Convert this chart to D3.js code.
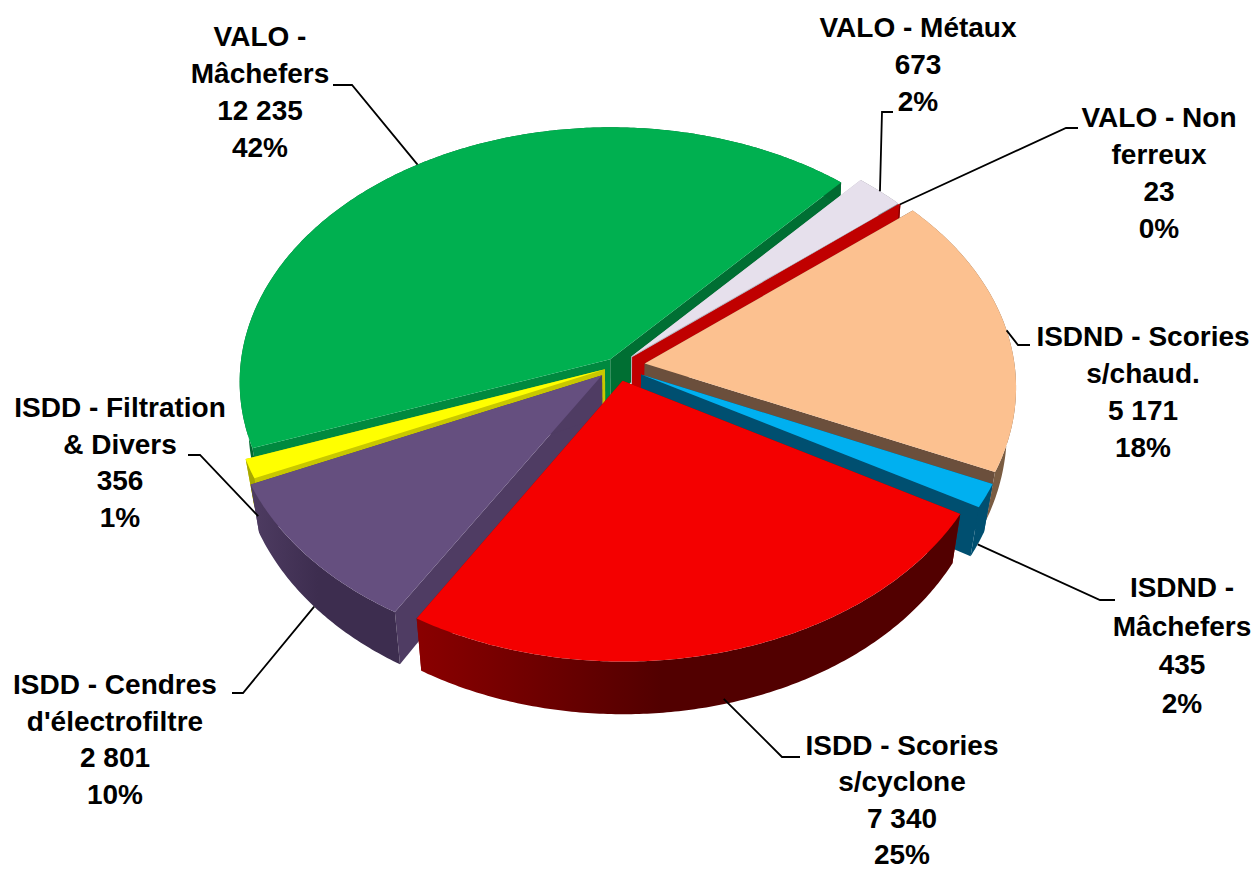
<!DOCTYPE html>
<html>
<head>
<meta charset="utf-8">
<script src="https://cdn.jsdelivr.net/npm/d3@7"></script>
<style>
  html, body { margin: 0; padding: 0; background: #fff; }
  text { font-family: "Liberation Sans", Arial, sans-serif; font-weight: bold; font-size: 28px; fill: #000; text-anchor: middle; }
</style>
</head>
<body>
<div id="chart"></div>
<script>
// pie order, clockwise from the gap next to the big green slice
let categories = ["VALO - Métaux", "VALO - Non ferreux", "ISDND - Scories s/chaud.", "ISDND - Mâchefers",
                  "ISDD - Scories s/cyclone", "ISDD - Cendres d'électrofiltre", "ISDD - Filtration & Divers", "VALO - Mâchefers"];
let values = [673, 23, 5171, 435, 7340, 2801, 356, 12235];
let value_labels = ["673", "23", "5 171", "435", "7 340", "2 801", "356", "12 235"];
let pct_labels = ["2%", "0%", "18%", "2%", "25%", "10%", "1%", "42%"];
let name_lines = [["VALO - Métaux"], ["VALO - Non", "ferreux"], ["ISDND - Scories", "s/chaud."], ["ISDND -", "Mâchefers"],
                  ["ISDD - Scories", "s/cyclone"], ["ISDD - Cendres", "d'électrofiltre"], ["ISDD - Filtration", "& Divers"], ["VALO -", "Mâchefers"]];

// per slice styling / explosion
let top_colors = ["#e6e0ec", "#c00000", "#fcc190", "#00b0f0", "#f40000", "#654f7f", "#ffff00", "#00b050"];
let cut_colors = [["#b8b3bd", "#b8b3bd"], ["#c00000", "#c00000"], ["#6b4f3c", "#6b4f3c"], ["#004f70", "#004f70"],
                  ["#8a0000", "#8a0000"], ["#4f3c63", "#4f3c63"], ["#c8c800", "#c8c800"], ["#00893f", "#006f33"]];
let wall_colors = [["#8a8690", "#8a8690"], ["#800000", "#800000"], ["#7a5c42", "#9a7656"], ["#004f70", "#004f70"],
                   ["#520000", "#8a0000"], ["#3d2d4f", "#4e3c62"], ["#a8a800", "#a8a800"], ["#006a30", "#006a30"]];
let explode = [20, 20, 28, 27, 22, 20, 13, 12];
let draw_order = [7, 0, 1, 6, 2, 3, 5, 4];

// label block centre x, first baseline, line gap, leader elbow
let label_x = [918, 1159, 1143, 1182, 902, 115, 120, 260];
let label_y = [37, 127, 346, 597, 755, 694, 417, 46];
let label_gap = [37, 37, 37, 38.5, 36.3, 36.7, 36.7, 37];
let elbows = [[[893, 112], [882, 112]], [[1078, 128], [1066, 128]], [[1030, 345], [1018, 345]], [[1115, 600], [1100, 600]],
              [[800, 757], [782, 757]], [[232, 693], [243, 693]], [[188, 455], [200, 455]], [[333, 85], [352, 85]]];
let leader_depth = [0, 0, 0, 1, 0.9, 1, 1, 0];

let w = 1255, h = 870;
let cx = 617, cy = 366, radius = 370;
let squash = 0.685, persp = 0.088;
let start_deg = 41.7;

let svg = d3.select("#chart").append("svg")
  .attr("width", w).attr("height", h)
  .attr("viewBox", "0 0 " + w + " " + h);
let defs = svg.append("defs");

let rScale = d3.scaleLinear().domain([0, 1]).range([0, radius]);

let arcs = d3.pie().sort(null)
  .startAngle(start_deg * Math.PI / 180)
  .endAngle((start_deg + 360) * Math.PI / 180)(values);

// plane -> screen, z 0 top face, 1 bottom face
function project(a, rr, i, z){
  let mid = (arcs[i].startAngle + arcs[i].endAngle) / 2;
  let X = rScale(rr) * Math.sin(a) + explode[i] * Math.sin(mid);
  let Y = rScale(rr) * Math.cos(a) + explode[i] * Math.cos(mid);
  let s = 1 / (1 + persp * Y / radius);
  let y = -squash * Y * s;
  // bottom face pulls in sideways mostly at the front
  let pull = y > 0 ? 0.023 : 0.023 + y * 0.0001;
  let x = X * s * (1 - pull * z);
  // wall height grows towards the viewer, flattens out at the front
  y = y + (41 + 0.075 * y - 0.00012 * y * y) * z;
  return [cx + x, cy + y];
}

function arc_points(i, z){
  let a0 = arcs[i].startAngle, a1 = arcs[i].endAngle;
  let n = Math.max(2, Math.ceil((a1 - a0) / 0.01));
  return d3.range(n + 1).map(k => project(a0 + (a1 - a0) * k / n, 1, i, z));
}

let line = d3.line().curve(d3.curveLinearClosed);

arcs.forEach((d, i) => {
  let pts = arc_points(i, 0).concat(arc_points(i, 1).reverse());
  let ext = d3.extent(pts, p => p[0]);
  let g = defs.append("linearGradient").attr("id", "wall" + i)
    .attr("gradientUnits", "userSpaceOnUse")
    .attr("x1", ext[0]).attr("x2", ext[1]).attr("y1", 0).attr("y2", 0);
  g.append("stop").attr("offset", 0).attr("stop-color", wall_colors[i][1]);
  g.append("stop").attr("offset", 0.45).attr("stop-color", wall_colors[i][0]);
  g.append("stop").attr("offset", 1).attr("stop-color", wall_colors[i][0]);
});

draw_order.forEach(i => {
  let d = arcs[i];
  let g = svg.append("g").attr("class", "slice");
  let apex0 = project(0, 0, i, 0), apex1 = project(0, 0, i, 1);
  // cut faces
  [d.startAngle, d.endAngle].forEach((a, k) => {
    g.append("path")
      .attr("d", line([apex0, project(a, 1, i, 0), project(a, 1, i, 1), apex1]))
      .attr("fill", cut_colors[i][k]);
  });
  // outer wall
  g.append("path")
    .attr("d", line(arc_points(i, 0).concat(arc_points(i, 1).reverse())))
    .attr("fill", "url(#wall" + i + ")");
  // top face
  g.append("path")
    .attr("d", line([apex0].concat(arc_points(i, 0))))
    .attr("fill", top_colors[i]);
});

// leaders
let leader = d3.line();
arcs.forEach((d, i) => {
  let mid = (d.startAngle + d.endAngle) / 2;
  svg.append("path")
    .attr("d", leader(elbows[i].concat([project(mid, 1, i, leader_depth[i])])))
    .attr("fill", "none")
    .attr("stroke", "#000")
    .attr("stroke-width", 1.8);
});

// labels
categories.forEach((c, i) => {
  let rows = name_lines[i].concat([value_labels[i], pct_labels[i]]);
  svg.append("text")
    .attr("data-name", c)
    .selectAll("tspan").data(rows).join("tspan")
      .attr("x", label_x[i])
      .attr("y", (r, k) => label_y[i] + k * label_gap[i])
      .text(r => r);
});
</script>
</body>
</html>
